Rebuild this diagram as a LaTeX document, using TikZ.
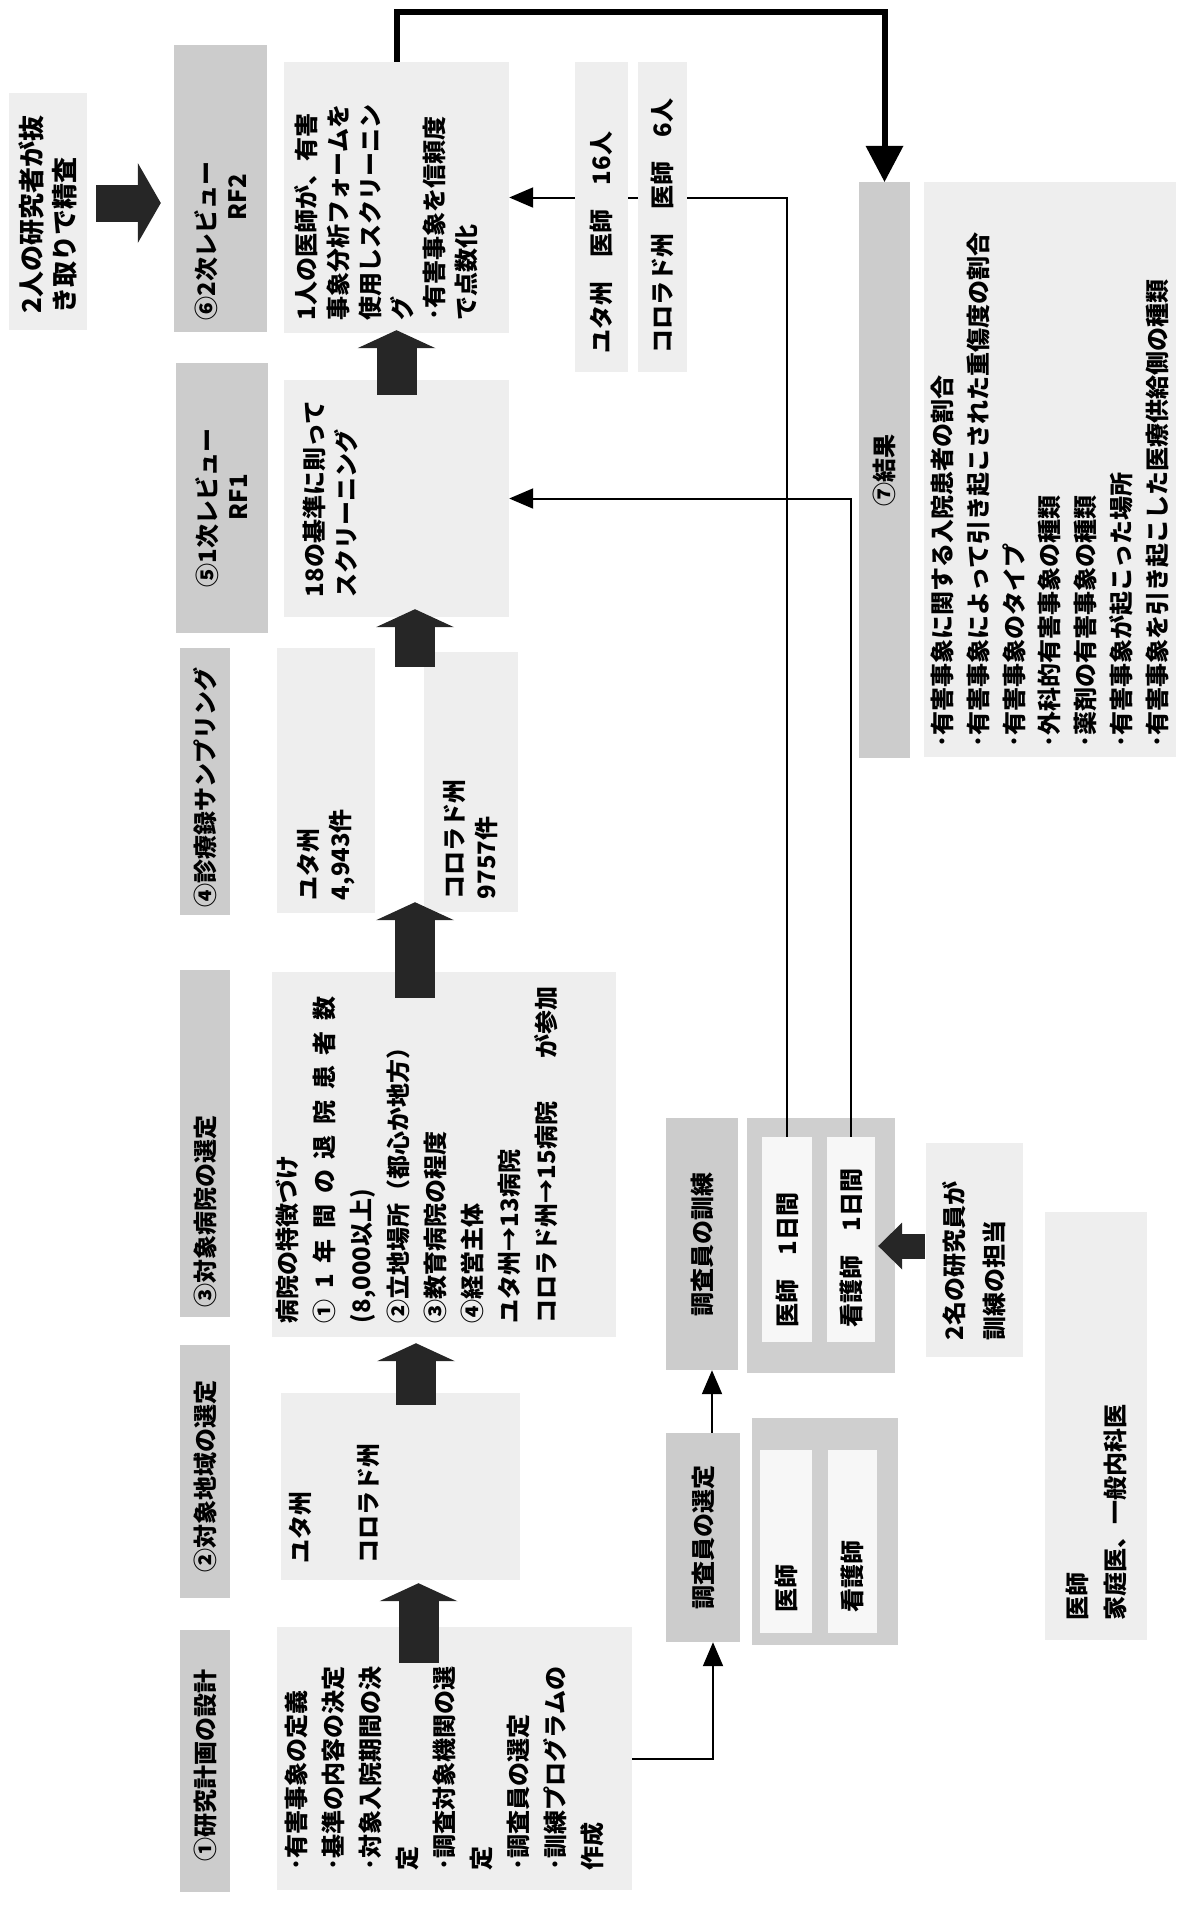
\documentclass[tikz,border=0pt]{standalone}
\usepackage{fontspec}
\setmainfont{Noto Sans CJK JP}
\usetikzlibrary{arrows.meta,calc}
\newcommand{\jf}[2]{\fontsize{#1}{#2}\selectfont\bfseries}
\begin{document}
\begin{tikzpicture}[x=1pt, y=-1pt]
  \tikzstyle{ttl} = [fill=gray!40, rotate=90, inner sep=0pt, font=\jf{24}{31}]
  \tikzstyle{cnt} = [fill=gray!13, rotate=90, inner sep=0pt, font=\jf{24}{36}]
  \tikzstyle{frm} = [fill=gray!38, rotate=90, inner sep=0pt]
  \tikzstyle{inr} = [fill=gray!6, rotate=90, inner sep=0pt, align=left, font=\jf{24}{30}]
  \tikzstyle{conn} = [line width=2pt, -{Triangle[width=20pt, length=24pt]}]
  \tikzstyle{bigconn} = [line width=6pt, -{Triangle[width=38pt, length=36pt, line width=0pt]}]
  \tikzstyle{fatup} = [line width=40pt, draw=black!85, -{Triangle[width=78pt, length=18pt, line width=0pt]}]
  \tikzstyle{fatright} = [line width=37pt, draw=black!85, -{Triangle[width=80pt, length=23pt, line width=0pt]}]
  \tikzstyle{fatleft} = [line width=25pt, draw=black!85, -{Triangle[width=47pt, length=24pt, line width=0pt]}]
  \useasboundingbox (0,0) rectangle (1181,1909);

  % title row
  \node[ttl, minimum width=262pt, minimum height=50pt, text width=200pt, align=left] (t1) at (205,1761) {①研究計画の設計};
  \node[ttl, minimum width=253pt, minimum height=50pt, text width=201pt, align=left] (t2) at (205,1471.5) {②対象地域の選定};
  \node[ttl, minimum width=347pt, minimum height=50pt, text width=327pt, align=left] (t3) at (205,1143.5) {③対象病院の選定};
  \node[ttl, minimum width=267pt, minimum height=50pt, text width=251pt, align=left] (t4) at (205,781.5) {④診療録サンプリング};
  \node[ttl, minimum width=270pt, minimum height=92pt, text width=178pt, align=left] (t5) at (222,498) {⑤1次レビュー\\\hspace*{67pt}RF1};
  \node[ttl, minimum width=287pt, minimum height=93pt, text width=263pt, align=left] (t6) at (220.5,188.5) {⑥2次レビュー\\\hspace*{100pt}RF2};
  \node[cnt, minimum width=237pt, minimum height=78pt, text width=203pt, align=left, font=\jf{26}{33}] (n2ken) at (48,211.5) {2人の研究者が抜\\き取りで精査};

  % content row
  \node[cnt, minimum width=263pt, minimum height=355pt, font=\jf{24}{37}] (c1) at (454.5,1758.5)
    {\parbox[c][339pt][t]{223pt}{\raggedright ･有害事象の定義\\･基準の内容の決定\\･対象入院期間の決\\定\\･調査対象機関の選\\定\\･調査員の選定\\･訓練プログラムの\\作成}};
  \node[cnt, minimum width=187pt, minimum height=239pt, font=\jf{24}{34}] (c2) at (400.5,1486.5)
    {\parbox[c][223pt][t]{153pt}{\raggedright ユタ州\\\mbox{}\\コロラド州}};
  \node[cnt, minimum width=365pt, minimum height=344pt, font=\jf{24}{37}] (c3) at (444,1154.5)
    {\parbox[c][336pt][t]{337pt}{\raggedright 病院の特徴づけ\\
      \makebox[\linewidth][l]{①\hfil 1\hfil 年\hfil 間\hfil の\hfil 退\hfil 院\hfil 患\hfil 者\hfil 数}\\
      (8,000以上)\\②立地場所（都心か地方）\\③教育病院の程度\\④経営主体\\ユタ州→13病院\\
      \makebox[\linewidth][l]{コロラド州→15病院\hfill が参加}}};
  \node[cnt, minimum width=265pt, minimum height=98pt, text width=239pt, align=left, font=\jf{24}{32}] (c4a) at (326,780.5) {ユタ州\\4,943件};
  \node[cnt, minimum width=260pt, minimum height=94pt, text width=234pt, align=left, font=\jf{24}{32}] (c4b) at (471,782) {コロラド州\\9757件};
  \node[cnt, minimum width=237pt, minimum height=225pt, font=\jf{24}{32}] (c5) at (396.5,498.5)
    {\parbox[c][187pt][t]{197pt}{\raggedright 18の基準に則って\\スクリーニング}};
  \node[cnt, minimum width=271pt, minimum height=225pt, font=\jf{24}{32}] (c6) at (396.5,197.5)
    {\parbox[c][205pt][t]{245pt}{\raggedright 1人の医師が、有害\\事象分析フォームを\\使用しスクリーニン\\グ\\･有害事象を信頼度\\で点数化}};

  % results
  \node[ttl, minimum width=576pt, minimum height=51pt] (t7) at (884.5,470) {⑦結果};
  \node[cnt, minimum width=575pt, minimum height=252pt, text width=555pt, align=left, font=\jf{24}{35.7}] (c7) at (1050,469.5)
    {･有害事象に関する入院患者の割合\\･有害事象によって引き起こされた重傷度の割合\\･有害事象のタイプ\\･外科的有害事象の種類\\･薬剤の有害事象の種類\\･有害事象が起こった場所\\･有害事象を引き起こした医療供給側の種類};

  % surveyors
  \node[ttl, minimum width=209pt, minimum height=74pt] (sentT) at (703,1537.5) {調査員の選定};
  \node[frm, minimum width=227pt, minimum height=146pt] (sentO) at (825,1531.5) {};
  \node[inr, minimum width=183pt, minimum height=52pt, text width=141pt] (sentI1) at (786,1541.5) {医師};
  \node[inr, minimum width=183pt, minimum height=49pt, text width=141pt] (sentI2) at (852.5,1541.5) {看護師};
  \node[ttl, minimum width=252pt, minimum height=72pt] (kunT) at (702,1244) {調査員の訓練};
  \node[frm, minimum width=255pt, minimum height=148pt] (kunO) at (821,1245.5) {};
  \node[inr, minimum width=205pt, minimum height=50pt, text width=175pt] (kunI1) at (787,1239.5) {医師　1日間};
  \node[inr, minimum width=205pt, minimum height=48pt, text width=175pt] (kunI2) at (851,1239.5) {看護師　1日間};
  \node[cnt, minimum width=214pt, minimum height=97pt, text width=180pt, align=left, font=\jf{24}{40}] (tanto) at (974.5,1250) {2名の研究員が\\訓練の担当};
  \node[cnt, minimum width=428pt, minimum height=102pt, text width=388pt, align=left, font=\jf{24}{38}] (ishi) at (1096,1426) {医師\\家庭医、一般内科医};

  % connectors
  \draw[bigconn] (c6.east) -- ++(0,-50) -| (t7.east);
  \draw[conn] (kunI1.east) |- (c6.south);
  \draw[conn] (kunI2.east) |- (c5.south);
  \draw[conn] (c1.south) -| ([xshift=10pt]sentT.west);
  \draw[conn] ([xshift=9pt]sentT.east) -- ([xshift=9pt]sentT.east |- kunT.west);

  \node[cnt, minimum width=310pt, minimum height=53pt, text width=272pt, align=left] (u16) at (601.5,217) {ユタ州　医師　16人};
  \node[cnt, minimum width=310pt, minimum height=49pt, text width=272pt, align=left] (c6p) at (662.5,217) {コロラド州　医師　6人};

  % block arrows
  \draw[fatup] ($(c1.east)+(-36,36)$) -- ($(c2.west)+(18,3)$);
  \draw[fatup] ($(c2.east)+(15.5,12)$) -- ($(c3.west)+(-28,6)$);
  \draw[fatup] ($(c3.east)+(-29,26)$) -- ($(c4a.west)!0.5!(c4b.west)+(16.5,-10.5)$);
  \draw[fatup] ($(c4a.east)!0.5!(c4b.east)+(16.5,17)$) -- ($(c5.west)+(18.5,-8)$);
  \draw[fatup] ($(c5.east)+(0,15)$) -- ($(c6.west)+(0,-3)$);
  \draw[fatright] ($(n2ken.south)+(9,-8.5)$) -- ($(t6.north |- n2ken.south)+(-13,-8.5)$);
  \draw[fatleft] ($(tanto.north)+(-1,-4)$) -- ($(kunO.south |- tanto.north)+(-17,-4)$);
\end{tikzpicture}
\end{document}
